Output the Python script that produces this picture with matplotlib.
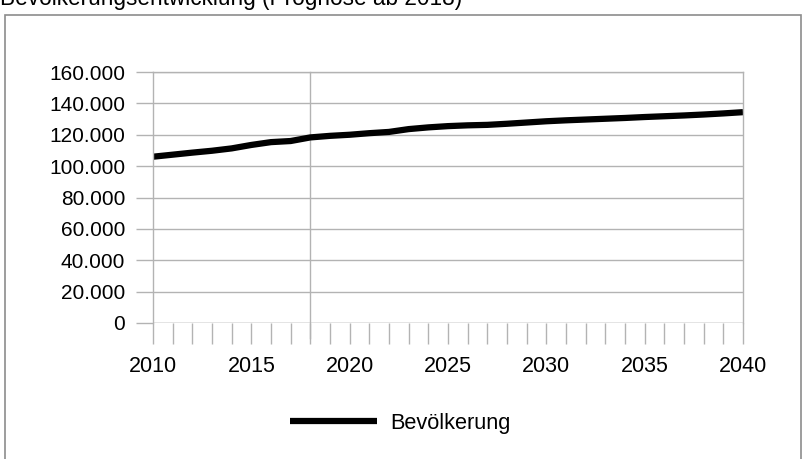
import matplotlib
matplotlib.use("Agg")
import matplotlib.pyplot as plt
from matplotlib.patches import Rectangle
from matplotlib.ticker import FuncFormatter, MultipleLocator

plt.rcParams['font.family'] = ['Liberation Sans', 'DejaVu Sans']

years = list(range(2010, 2041))
population = [106000, 107300, 108600, 109800, 111300, 113500, 115300, 116000,
              118300, 119300, 120000, 121000, 121800, 123600, 124700, 125500,
              126000, 126300, 127000, 127800, 128600, 129200, 129700, 130200,
              130700, 131300, 131800, 132300, 132900, 133600, 134400]
series_label = "Bevölkerung"
title = "Bevölkerungsentwicklung (Prognose ab 2018)"
forecast_start = 2018
y_ticks = [0, 20000, 40000, 60000, 80000, 100000, 120000, 140000, 160000]
x_ticks = [2010, 2015, 2020, 2025, 2030, 2035, 2040]

W, H = 812, 459
fig = plt.figure(figsize=(W / 100, H / 100), dpi=100)
grid_c = "#b3b3b3"

# outer border
fig.patches.append(Rectangle((5 / W, -0.01), (801 - 5) / W, 1 - 15 / H + 0.01,
                             transform=fig.transFigure, fill=False,
                             edgecolor="#8c8c8c", linewidth=1.2))

fig.text(0, 1 - 5 / H, title, fontsize=16.3, va="baseline", ha="left", color="black")

ax = fig.add_axes([153 / W, 1 - 323 / H, (743 - 153) / W, (323 - 72) / H])
line, = ax.plot(years, population, color="black", linewidth=4.5,
                solid_joinstyle="round", solid_capstyle="butt", label=series_label)

ax.set_xlim(2010, 2040)
ax.set_ylim(0, 160000)
ax.set_yticks(y_ticks)
ax.set_xticks(x_ticks)
ax.xaxis.set_minor_locator(MultipleLocator(1))
ax.yaxis.set_major_formatter(FuncFormatter(lambda v, p: f"{int(v):,}".replace(",", ".")))

ax.grid(axis="y", color=grid_c, linewidth=1)
for s in ax.spines.values():
    s.set_color(grid_c)
    s.set_linewidth(1)
ax.spines["bottom"].set_visible(False)
ax.tick_params(axis="y", which="major", length=12, width=1, color=grid_c,
               labelsize=15, pad=8)
ax.tick_params(axis="x", which="both", length=15, width=1, color=grid_c,
               labelsize=15.5, pad=9)
ax.axvline(forecast_start, ymin=-15 / 251, ymax=1, color=grid_c, linewidth=1,
           clip_on=False, zorder=1)
ax.axhline(0, color=grid_c, linewidth=1, zorder=1)

fig.legend(handles=[line], loc="center", bbox_to_anchor=(400 / W, 1 - 423 / H),
           frameon=False, fontsize=15.7, handlelength=4.0, handletextpad=0.6)

fig.savefig("out.png", dpi=100)
